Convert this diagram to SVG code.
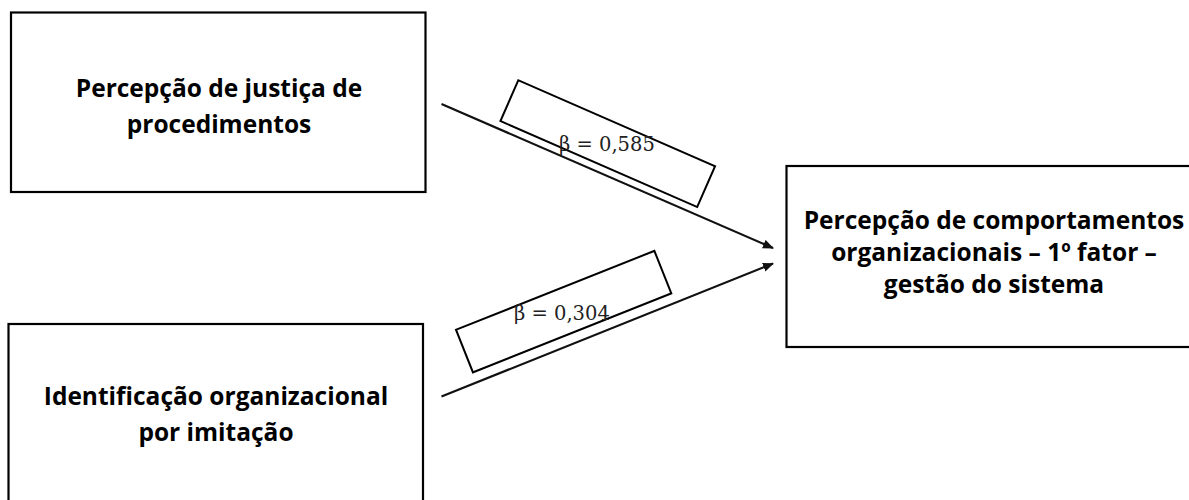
<svg xmlns="http://www.w3.org/2000/svg" width="1189" height="500" viewBox="0 0 1189 500">
  <style>
    .box { fill: #ffffff; stroke: #000000; stroke-width: 2.2; }
    .lbl { fill: none; stroke: #000000; stroke-width: 2; }
    .node-text { font-family: "Open Sans", "Liberation Sans", sans-serif; font-weight: 700; font-size: 24.5px; fill: #000000; text-anchor: middle; }
    .beta { font-family: "DejaVu Serif", "Liberation Serif", serif; font-size: 19.5px; fill: #222222; }
    .conn { stroke: #111111; stroke-width: 2.2; fill: none; marker-end: url(#arrow); }
  </style>
  <defs>
    <marker id="arrow" markerUnits="userSpaceOnUse" markerWidth="12" markerHeight="10" refX="10" refY="4.5" orient="auto">
      <path d="M0,0 L11,4.5 L0,9 z" fill="#111111"/>
    </marker>
  </defs>
  <rect width="1189" height="500" fill="#ffffff"/>

  <g id="node-justica">
    <rect class="box" x="11" y="12.5" width="414.5" height="179.5"/>
    <text class="node-text" x="219" y="96.5">Percepção de justiça de</text>
    <text class="node-text" x="219" y="132.5">procedimentos</text>
  </g>

  <g id="node-identificacao">
    <rect class="box" x="8.5" y="324" width="414.5" height="200"/>
    <text class="node-text" x="216" y="405">Identificação organizacional</text>
    <text class="node-text" x="216" y="441">por imitação</text>
  </g>

  <g id="node-comportamentos">
    <rect class="box" x="786.5" y="166" width="430" height="181"/>
    <text class="node-text" x="994" y="229">Percepção de comportamentos</text>
    <text class="node-text" x="994" y="261">organizacionais – 1º fator –</text>
    <text class="node-text" x="994" y="293">gestão do sistema</text>
  </g>

  <g id="connectors">
    <line class="conn" x1="441.5" y1="104" x2="773" y2="248"/>
    <line class="conn" x1="441.5" y1="396.5" x2="773" y2="263.5"/>
  </g>

  <g id="label-0585">
    <rect class="lbl" x="-107.3" y="-22.3" width="214.7" height="44.6" transform="translate(607.7 143.6) rotate(23.6)"/>
    <text class="beta" x="559" y="151">β = 0,585</text>
  </g>

  <g id="label-0304">
    <rect class="lbl" x="-106.8" y="-22.9" width="213.5" height="45.8" transform="translate(563.7 311.6) rotate(-21.7)"/>
    <text class="beta" x="514" y="320">β = 0,304</text>
  </g>
</svg>
